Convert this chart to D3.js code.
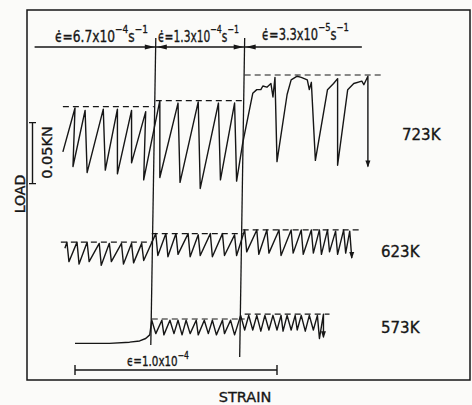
<!DOCTYPE html>
<html>
<head>
<meta charset="utf-8">
<script src="https://cdn.jsdelivr.net/npm/d3@7"></script>
<style>
  body { margin: 0; background: #fbfbf9; }
  text { font-family: "DejaVu Sans", sans-serif; fill: #161616; stroke: #161616; stroke-width: 0.35px; }
</style>
</head>
<body>
<svg id="chart" width="472" height="405"></svg>
<script>
// strain in units of 1e-6, load in N (zero is arbitrary, curves offset as recorded)
const curve723 = [
  [-6, 187], [0, 223], [-1, 175], [5, 221], [6, 170], [14, 222], [15, 172], [21, 222], [21, 169],
  [28, 221], [28, 178], [35, 220], [34, 164],
  [42, 229], [42, 166], [51, 227], [52, 162], [61, 228], [62, 157], [71, 227], [72, 164], [79, 227], [80, 163],
  [83, 194], [88, 235], [90, 238], [92, 238], [93, 241], [95, 240], [97, 243], [98, 232], [99, 248], [100, 179],
  [105, 234], [107, 246], [110, 249], [112, 248], [115, 246], [116, 238], [117, 244], [119, 180],
  [125, 238], [128, 243], [130, 247], [130, 176],
  [135, 238], [138, 243], [142, 245], [143, 242], [145, 249], [145, 175]
];
const curve623 = [
  [-5, 108], [-4, 113], [-3, 97], [1, 113], [2, 95], [6, 113], [7, 97], [12, 112], [13, 94], [17, 112], [18, 97],
  [23, 112], [24, 95], [28, 112], [29, 96], [33, 112], [34, 98],
  [40, 120], [41, 102], [45, 120], [46, 101], [50, 120], [51, 103], [56, 120], [57, 101], [61, 119], [62, 102],
  [67, 120], [68, 101], [73, 120], [74, 102], [79, 119], [80, 102],
  [84, 123], [85, 105], [90, 123], [91, 103], [95, 123], [96, 104], [101, 123], [102, 102], [107, 123], [108, 104],
  [112, 123], [113, 103], [117, 123], [118, 104], [121, 123], [122, 103], [125, 123], [126, 105], [129, 122],
  [130, 103], [133, 123], [134, 104], [136, 122], [137, 100]
];
const curve573 = [
  [0, 30], [17, 30], [27, 31], [32, 32], [35, 34], [37, 37],
  [38, 49], [40, 38], [43, 49], [44, 37], [47, 49], [49, 38], [51, 49], [53, 37], [55, 49], [57, 38],
  [60, 49], [61, 37], [64, 49], [66, 38], [68, 49], [70, 37], [73, 49], [74, 38], [77, 49], [79, 37],
  [82, 53], [84, 41], [86, 53], [88, 41], [90, 53], [92, 40], [94, 53], [96, 41], [98, 53], [100, 41],
  [102, 53], [103, 40], [105, 53], [107, 41], [109, 53], [110, 41], [112, 53], [114, 40], [116, 53],
  [118, 41], [120, 53], [121, 34], [123, 54], [123, 35]
];

// dashed upper envelopes: [strain from, strain to, load]
const env723 = [[-6, 39, 224], [40, 84, 229], [84, 153, 250]];
const env623 = [[-7, 38, 113], [38, 83, 120], [83, 142, 123]];
const env573 = [[38, 84, 50], [84, 126, 54]];

// strain-rate changes
const rateChanges = [40, 84];
const rateSpans = [[-20, 40], [40, 84], [84, 142]];
const rateValues = ['6.7', '1.3', '3.3'];
const rateExps = ['\u22124', '\u22124', '\u22125'];

const temps = ['723K', '623K', '573K'];

const svg = d3.select('#chart');

const x = d3.scaleLinear().domain([0, 100]).range([75, 277]);
const y = d3.scaleLinear().domain([0, 50]).range([380, 319]);

const ink = '#161616';

// squeeze a text node to a given width from a left point
function fit(sel, left, base, width) {
  const w = sel.node().getBBox().width;
  sel.attr('x', 0).attr('y', 0)
    .attr('transform', `translate(${left},${base}) scale(${width / w},1)`);
}

svg.append('rect')
  .attr('x', 27).attr('y', 10)
  .attr('width', 443).attr('height', 370)
  .style('fill', 'none')
  .style('stroke', ink)
  .style('stroke-width', 1.5);

// strain-rate change lines (slightly skewed like the scan)
const lineBottoms = [345, 357];
svg.selectAll('line.change')
  .data(rateChanges)
  .enter()
  .append('line')
  .classed('change', true)
  .attr('x1', d => x(d))
  .attr('y1', 38)
  .attr('x2', d => x(d) - 5)
  .attr('y2', (d, i) => lineBottoms[i])
  .style('stroke', ink)
  .style('stroke-width', 1.3);

// arrow line on top
svg.append('line')
  .attr('x1', x(rateSpans[0][0])).attr('x2', x(rateSpans[2][1]))
  .attr('y1', 47).attr('y2', 47)
  .style('stroke', ink)
  .style('stroke-width', 1.4);

rateChanges.forEach(c => {
  const cx = x(c);
  svg.append('path')
    .attr('d', `M${cx - 1},47 L${cx - 11},44.5 L${cx - 11},49.5 Z`)
    .style('fill', ink);
  svg.append('path')
    .attr('d', `M${cx + 1},47 L${cx + 11},44.5 L${cx + 11},49.5 Z`)
    .style('fill', ink);
});

const rateLeft = [55, 158, 262];
const rateWidth = [93, 81, 87];
const rateBase = [42, 42, 40];

rateSpans.forEach((s, i) => {
  const t = svg.append('text')
    .classed('rate', true)
    .style('font-size', '15px');
  t.append('tspan').text('\u03f5\u0307=' + rateValues[i] + 'x10');
  t.append('tspan').attr('dy', -9).style('font-size', '11px').text(rateExps[i]);
  t.append('tspan').attr('dy', 9).text('s');
  t.append('tspan').attr('dy', -9).style('font-size', '11px').text('\u22121');
  fit(t, rateLeft[i], rateBase[i], rateWidth[i]);
});

// curves
const line = d3.line()
  .x(d => x(d[0]))
  .y(d => y(d[1]));

const curves = [curve723, curve623, curve573];

svg.selectAll('path.curve')
  .data(curves)
  .enter()
  .append('path')
  .classed('curve', true)
  .attr('d', line)
  .style('fill', 'none')
  .style('stroke', ink)
  .style('stroke-width', 1.4)
  .style('stroke-linejoin', 'round');

// arrow heads at the end of each curve
svg.selectAll('path.head')
  .data(curves)
  .enter()
  .append('path')
  .classed('head', true)
  .attr('d', d => {
    const p = d[d.length - 1];
    const px = x(p[0]), py = y(p[1]);
    return `M${px},${py + 1} L${px - 2.5},${py - 6} L${px + 2.5},${py - 6} Z`;
  })
  .style('fill', ink);

// dashed envelopes
const envs = [].concat(env723, env623, env573);
svg.selectAll('line.env')
  .data(envs)
  .enter()
  .append('line')
  .classed('env', true)
  .attr('x1', d => x(d[0]))
  .attr('x2', d => x(d[1]))
  .attr('y1', d => y(d[2]))
  .attr('y2', d => y(d[2]))
  .style('stroke', ink)
  .style('stroke-width', 1.2)
  .style('stroke-dasharray', '6,4');

// temperature labels
const tempPos = [[402, 140], [381, 257], [381, 333]];
svg.selectAll('text.temp')
  .data(temps)
  .enter()
  .append('text')
  .classed('temp', true)
  .style('font-size', '16px')
  .text(d => d)
  .each(function (d, i) { fit(d3.select(this), tempPos[i][0], tempPos[i][1], 39); });

// strain scale bar: 1.0e-4 = 100 units
svg.append('path')
  .attr('d', `M${x(0)},365 V375 M${x(0)},370 H${x(100)} M${x(100)},365 V375`)
  .style('fill', 'none')
  .style('stroke', ink)
  .style('stroke-width', 1.4);

const sLab = svg.append('text')
  .style('font-size', '13.5px');
sLab.append('tspan').text('\u03f5=1.0x10');
sLab.append('tspan').attr('dy', -7).style('font-size', '10px').text('\u22124');
fit(sLab, 127, 366, 62);

// load scale bar: 0.05 kN = 50 N
svg.append('path')
  .attr('d', `M29,${y(211)} H36 M32.5,${y(211)} V${y(161)} M29,${y(161)} H36`)
  .style('fill', 'none')
  .style('stroke', ink)
  .style('stroke-width', 1.4);

svg.append('text')
  .attr('transform', 'translate(52,152.5) rotate(-90)')
  .attr('text-anchor', 'middle')
  .style('font-size', '14.5px')
  .text('0.05KN');

svg.append('text')
  .attr('transform', 'translate(25,194) rotate(-90)')
  .attr('text-anchor', 'middle')
  .style('font-size', '14px')
  .text('LOAD');

svg.append('text')
  .attr('x', 245).attr('y', 402)
  .attr('text-anchor', 'middle')
  .style('font-size', '14.5px')
  .text('STRAIN');
</script>
</body>
</html>
